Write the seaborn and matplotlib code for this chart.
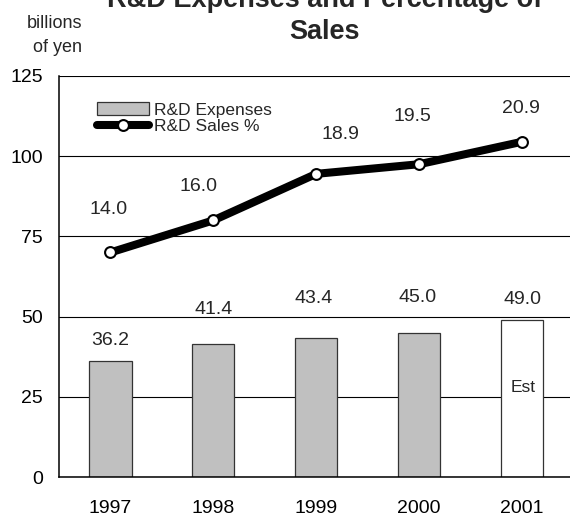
import numpy as np
import matplotlib
matplotlib.use("Agg")
import matplotlib.pyplot as plt
import seaborn as sns
from matplotlib.patches import Patch
from matplotlib.lines import Line2D

# Data
years = ["1997", "1998", "1999", "2000", "2001"]
expenses = [36.2, 41.4, 43.4, 45.0, 49.0]          # billions of yen
sales_pct = [14.0, 16.0, 18.9, 19.5, 20.9]         # R&D as % of sales
estimated = [False, False, False, False, True]

# Label placement (pixel offsets from each mark)
bar_label_offsets = [(0, 16), (0, 30), (-3, 35), (-2, 31), (0, 16)]
line_label_offsets = [(-2, 38), (-15, 29), (24, 35), (-7, 43), (-1, 29)]

sns.set_style("white")
plt.rcParams["font.family"] = ["Liberation Sans", "DejaVu Sans"]

W, H = 570, 516
fig = plt.figure(figsize=(W / 100, H / 100), dpi=100)
left, right, top, bottom = 59, 573.5, 76, 477
ax = fig.add_axes([left / W, 1 - bottom / H, (right - left) / W, (bottom - top) / H])

df_bar = {"year": years, "expenses": expenses}
fills = ["white" if e else "#c0c0c0" for e in estimated]
sns.barplot(x="year", y="expenses", hue="year", data=df_bar, palette=fills,
            width=0.41, dodge=False, legend=False, edgecolor="#333333",
            linewidth=0.9, saturation=1, ax=ax)

ax.set_xlim(-0.5, 4.5)
ax.set_ylim(0, 125)
ax.set_yticks([0, 25, 50, 75, 100, 125])
ax.set_axisbelow(True)
ax.yaxis.grid(True, color="black", linewidth=0.8)
ax.xaxis.grid(False)
ax.set_xlabel("")
ax.set_ylabel("")
for side in ["left", "bottom"]:
    ax.spines[side].set_color("black")
    ax.spines[side].set_linewidth(1.1)
ax.spines["right"].set_visible(False)
ax.spines["top"].set_visible(False)
ax.tick_params(axis="y", length=0, pad=11.5, labelsize=14, colors="black")
ax.tick_params(axis="x", which="major", length=0, pad=16.5, labelsize=14, colors="black")
ax.set_xticks(np.arange(len(years)) + 0.5, minor=True)
ax.tick_params(axis="x", which="minor", direction="in", length=4, width=1, color="#555555")

# Value labels on bars
for i, (v, (dx, dy)) in enumerate(zip(expenses, bar_label_offsets)):
    ax.annotate(f"{v:.1f}", (i, v), xytext=(dx, dy), textcoords="offset pixels",
                ha="center", va="baseline", fontsize=14)
for i, e in enumerate(estimated):
    if e:
        ax.text(i + 0.01, 26.6, "Est", ha="center", va="baseline", fontsize=12.5)

# Percentage line on its own scale (0-25 %)
ax2 = ax.twinx()
ax2.set_ylim(0, 25)
ax2.set_yticks([])
for s in ax2.spines.values():
    s.set_visible(False)
x_pos = np.arange(len(years))
sns.lineplot(x=x_pos, y=sales_pct, ax=ax2, color="black", linewidth=5.8,
             marker="o", markersize=7.8, markerfacecolor="white",
             markeredgecolor="black", markeredgewidth=1.5,
             solid_capstyle="round", solid_joinstyle="round", legend=False)
ax2.set_xlim(-0.5, 4.5)
for i, (v, (dx, dy)) in enumerate(zip(sales_pct, line_label_offsets)):
    ax2.annotate(f"{v:.1f}", (i, v), xytext=(dx, dy), textcoords="offset pixels",
                 ha="center", va="baseline", fontsize=14)

handles = [
    Patch(facecolor="#c0c0c0", edgecolor="#333333", linewidth=0.9),
    Line2D([0], [0], color="black", linewidth=5.8, marker="o", markersize=7.8,
           markerfacecolor="white", markeredgecolor="black", markeredgewidth=1.5,
           solid_capstyle="round"),
]
ax2.legend(handles, ["R&D Expenses", "R&D Sales %"], loc="upper left",
           bbox_to_anchor=((97 - left) / (right - left), (bottom - 102.5) / (bottom - top)),
           frameon=False, fontsize=12.5, handlelength=3.0, handletextpad=0.3,
           labelspacing=0.05, borderpad=0, borderaxespad=0)

# Title and unit label
fig.text(325 / W, 1 - 7 / H, "R&D Expenses and Percentage of", ha="center",
         va="baseline", fontsize=19.5, fontweight="bold")
fig.text(325 / W, 1 - 39.3 / H, "Sales", ha="center", va="baseline",
         fontsize=19.5, fontweight="bold")
fig.text(82 / W, 1 - 28.3 / H, "billions", ha="right", va="baseline", fontsize=13)
fig.text(82 / W, 1 - 51.7 / H, "of yen", ha="right", va="baseline", fontsize=13)

fig.savefig("out.png", dpi=100)
